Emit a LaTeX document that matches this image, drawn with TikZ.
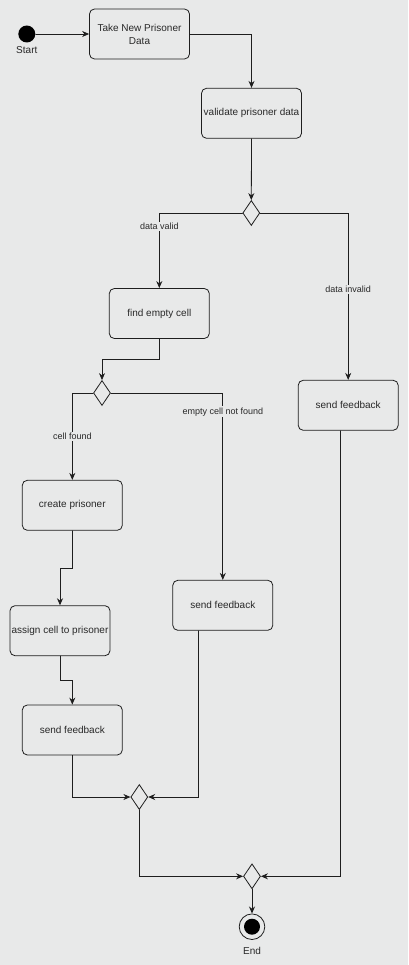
\documentclass[tikz,border=0pt]{standalone}
\usepackage{fontspec}
\setmainfont{Liberation Sans}
\usepackage{tikz}
\usetikzlibrary{arrows.meta,shapes.geometric}
\definecolor{pagegrey}{RGB}{232,233,233}
\definecolor{flowink}{RGB}{30,30,30}
\definecolor{flowtext}{RGB}{40,40,40}

\begin{document}
\begin{tikzpicture}[x=1pt,y=-1pt,>={Stealth[length=7pt,width=6pt]},line cap=round,
  flowink,line width=0.8pt,
  act/.style={draw,rounded corners=5pt,minimum width=100pt,minimum height=50pt,
   inner sep=1pt,align=center,font=\fontsize{10}{13}\selectfont,text=flowtext},
  choice/.style={draw,diamond,minimum width=17pt,minimum height=25pt,inner sep=0pt,fill=pagegrey},
  guard/.style={fill=pagegrey,inner sep=1pt,font=\fontsize{9}{11}\selectfont,text=flowtext}]
 \fill[pagegrey] (0,0) rectangle (408,965);
 \useasboundingbox (0,0) rectangle (408,965);
 \node[circle,fill=black,minimum size=17pt,inner sep=0pt,
  label={[text=flowtext,font=\fontsize{10}{12}\selectfont,label distance=0pt]below:Start}]
  (start) at (26.8,34) {};
 \node[act] (take) at (139.5,34) {Take New Prisoner\\Data};
 \node[act] (validate) at (251.5,113.3) {validate prisoner data};
 \node[choice] (isvalid) at (251.3,213) {};
 \node[act] (findcell) at (159.3,313.5) {find empty cell};
 \node[act] (invalidfb) at (348.2,405.3) {send feedback};
 \node[choice] (hascell) at (102,393) {};
 \node[act] (create) at (72.3,505.3) {create prisoner};
 \node[act] (assign) at (60,630.7) {assign cell to prisoner};
 \node[act] (assignedfb) at (72.3,730) {send feedback};
 \node[act] (nocellfb) at (222.8,605.3) {send feedback};
 \node[choice] (mergecell) at (139.3,797) {};
 \node[choice] (mergeall) at (252,876.3) {};
 \node[circle,draw,minimum size=25.6pt,inner sep=0pt,
  label={[text=flowtext,font=\fontsize{10}{12}\selectfont,label distance=4pt]below:End}]
  (finish) at (252,926.7) {};
 \fill[black] (finish.center) circle (8pt);
 \draw[->] (start) -- (take);
 \draw[->] (take.east) -| (validate.north);
 \draw[->] (validate.south) -- (isvalid.north);
 \draw[->] (isvalid.west) -| (findcell.north) node[guard,pos=.59] {data valid};
 \draw[->] (isvalid.east) -| (invalidfb.north) node[guard,pos=.73] {data invalid};
 \draw[->] (findcell.south) -- ++(0,20.5) -| (hascell.north);
 \draw[->] (hascell.west) -| (create.north) node[guard,pos=.75] {cell found};
 \draw[->] (hascell.east) -| (nocellfb.north) node[guard,pos=.55] {empty cell not found};
 \draw[->] (create.south) -- ++(0,37.5) -| (assign.north);
 \draw[->] (assign.south) -- ++(0,24.3) -| (assignedfb.north);
 \draw[->] (assignedfb.south) |- (mergecell.west);
 \draw[->] ([xshift=-24.8pt]nocellfb.south) |- (mergecell.east);
 \draw[->] (mergecell.south) |- (mergeall.west);
 \draw[->] ([xshift=-8.2pt]invalidfb.south) |- (mergeall.east);
 \draw[->] (mergeall.south) -- (finish.north);
\end{tikzpicture}
\end{document}
